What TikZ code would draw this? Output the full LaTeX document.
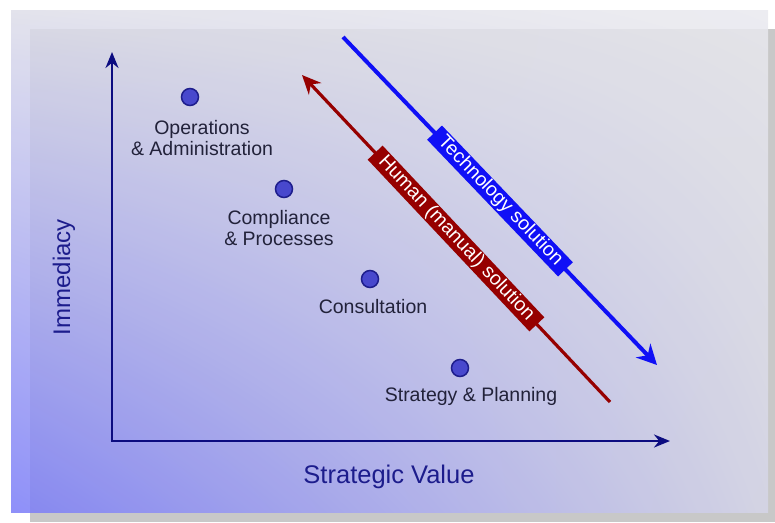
\documentclass[tikz,border=0pt]{standalone}
\usepackage{fontspec}
\setmainfont{Liberation Sans}
\usepackage{tikz}
\usetikzlibrary{arrows.meta,shadings}

\definecolor{axisnavy}{RGB}{12,12,128}
\definecolor{labelnavy}{RGB}{28,28,140}
\definecolor{labelgray}{RGB}{34,34,58}
\definecolor{dotfill}{RGB}{72,72,205}
\definecolor{dotedge}{RGB}{30,30,140}
\definecolor{techblue}{RGB}{16,16,246}
\definecolor{humanred}{RGB}{150,0,0}
\definecolor{shadowgray}{RGB}{200,200,200}
\definecolor{panelLL}{RGB}{122,124,248}
\definecolor{panelUL}{RGB}{222,222,233}
\definecolor{panelLR}{RGB}{214,214,232}
\definecolor{panelUR}{RGB}{233,233,238}

\begin{document}
\begin{tikzpicture}[x=1pt,y=-1pt,>=Stealth,
  axis/.style={draw=axisnavy,line width=2.5pt,line join=miter,
    {Stealth[length=16pt,width=13pt]}-{Stealth[length=16pt,width=13pt]}},
  dot/.style={circle,fill=dotfill,draw=dotedge,line width=1.5pt,minimum size=17pt,inner sep=0pt},
  pointlabel/.style={font=\fontsize{19.5}{21}\selectfont,text=labelgray,align=center,inner sep=0pt,anchor=base},
  axislabel/.style={font=\fontsize{24}{28}\selectfont,text=labelnavy,inner sep=0pt,anchor=base},
  solution/.style={sloped,text=white,font=\fontsize{19.5}{22}\selectfont,
    inner xsep=9pt,inner ysep=1pt,text height=14pt,text depth=4.5pt}]
\useasboundingbox (0,0) rectangle (775,522);

% panel with its drop shadow
\fill[shadowgray] (30,29) rectangle (775,522);
\shade[opacity=0.85,lower left=panelLL,upper left=panelUL,
  lower right=panelLR,upper right=panelUR] (11,10) rectangle (768,512);

% axes
\coordinate (ytop) at (112,52);
\coordinate (xend) at (670,441);
\draw[axis] (ytop) |- (xend);
\node[axislabel,rotate=90] (immediacy) at (70,277) {Immediacy};
\node[axislabel,font=\fontsize{25.5}{28}\selectfont] (value) at (389,483) {Strategic Value};

% service areas (multi-line labels sit on their last baseline)
\node[dot] (ops) at (190,97) {};
\node[dot] (comp) at (284,189) {};
\node[dot] (cons) at (370,279) {};
\node[dot] (strat) at (460,368) {};
\node[pointlabel] (opslbl) at (202,155) {Operations\\\& Administration};
\node[pointlabel] (complbl) at (279,245) {Compliance\\\& Processes};
\node[pointlabel] (conslbl) at (373,313) {Consultation};
\node[pointlabel] (stratlbl) at (471,401) {Strategy \& Planning};

% solution directions
\coordinate (techA) at (343,37);
\coordinate (techB) at (657,365);
\draw[techblue,line width=4pt,-{Stealth[length=20pt,width=20pt]}] (techA) --
  node[solution,fill=techblue] (techlbl) {Technology solution} (techB);
\coordinate (humA) at (302,75);
\coordinate (humB) at (610,402);
\draw[humanred,line width=3.2pt,-{Stealth[length=19pt,width=17pt]}] (humB) --
  node[solution,fill=humanred] (humlbl) {Human (manual) solution} (humA);
\end{tikzpicture}
\end{document}
